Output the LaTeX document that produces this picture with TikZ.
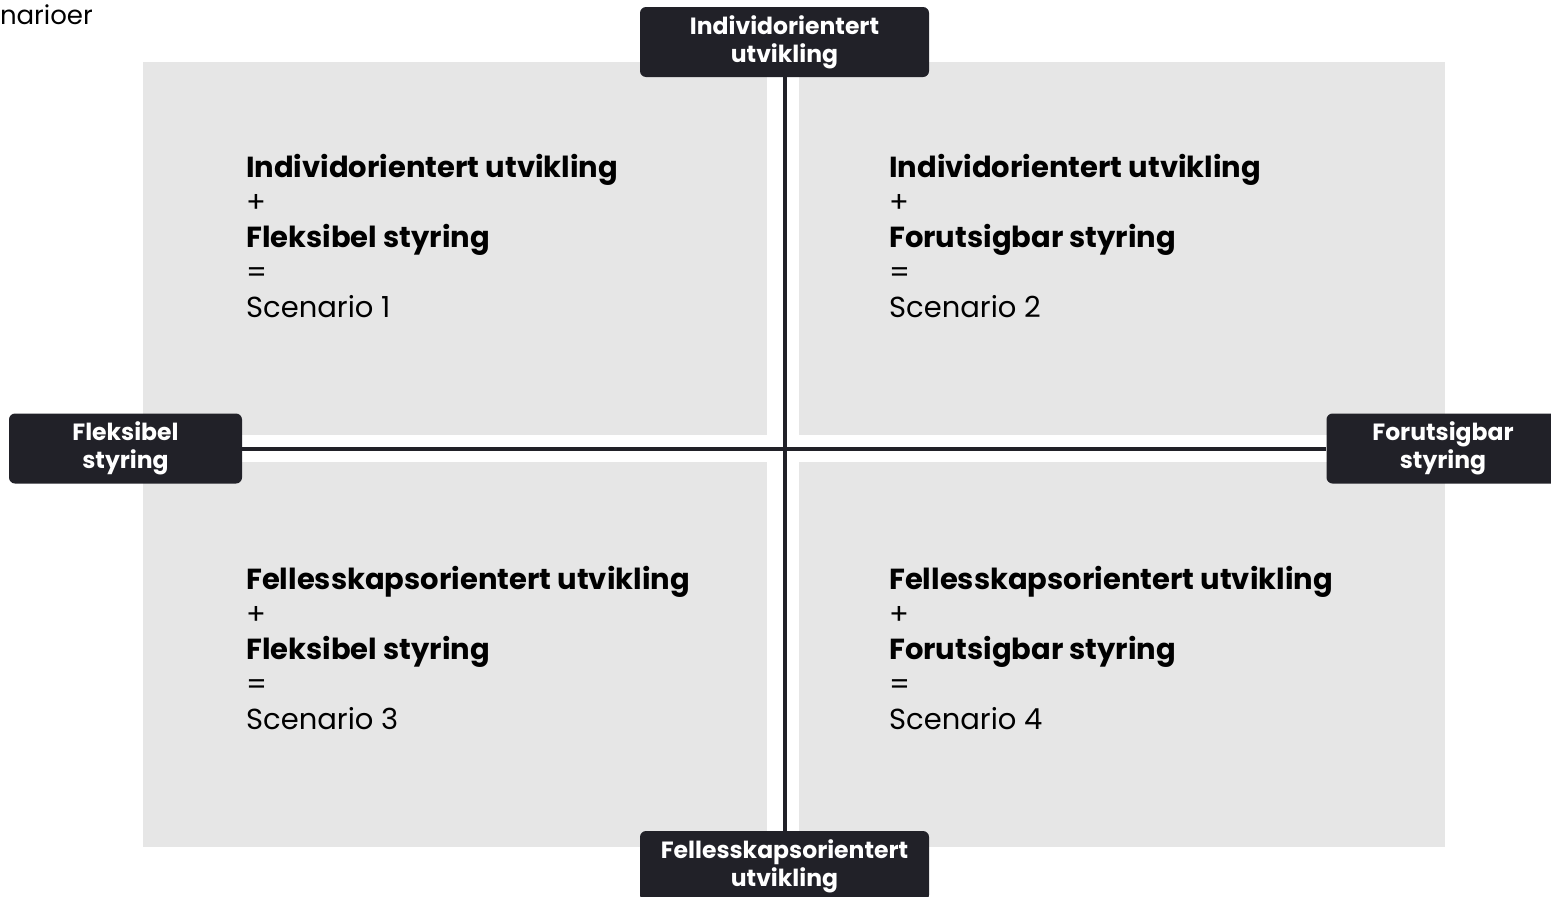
\documentclass[tikz,border=0pt]{standalone}
\usepackage{fontspec}
\setmainfont{Poppins}
\definecolor{boxdark}{RGB}{33,33,40}
\definecolor{panelgrey}{RGB}{230,230,230}

\begin{document}
\begin{tikzpicture}[x=1pt,y=-1pt,line cap=round,line join=round,every node/.style={inner sep=0pt},
  panel/.style={fill=panelgrey},
  axislabel/.style={fill=boxdark,text=white,rounded corners=6pt,minimum width=233pt,minimum height=70pt,
    align=center,font=\bfseries\fontsize{23.5}{28}\selectfont},
  axisline/.style={draw=boxdark,line width=4pt,line cap=butt},
  quadtext/.style={anchor=base west,align=left,font=\fontsize{29}{35}\selectfont}]
  \useasboundingbox (0,0) rectangle (1551,897);
  \clip (0,0) rectangle (1551,897);
  \foreach \xa/\xb in {143/767,799/1445} {
    \foreach \ya/\yb in {62/435,462/847} {
      \fill[panel] (\xa,\ya) rectangle (\xb,\yb);
    }
  }
  \node[anchor=base east,font=\fontsize{26}{30}\selectfont] (title) at (93,24) {Scenarioer};
  \node[axislabel,minimum width=289pt] (top) at (784.5,42) {Individorientert\\utvikling};
  \node[axislabel,minimum width=289pt] (bottom) at (784.5,866) {Fellesskapsorientert\\utvikling};
  \node[axislabel] (left) at (125.5,448.5) {Fleksibel\\styring};
  \node[axislabel] (right) at (1443,448.5) {Forutsigbar\\styring};
  \draw[axisline] (top) -- (bottom);
  \draw[axisline] (left) -- (right);
  % base anchor sits on the last line (Scenario n)
  \foreach \x/\y/\dev/\ctl/\n in {246/317/Individorientert/Fleksibel/1,889/317/Individorientert/Forutsigbar/2,
      246/729/Fellesskapsorientert/Fleksibel/3,889/729/Fellesskapsorientert/Forutsigbar/4} {
    \node[quadtext] (scen\n) at (\x,\y) {\textbf{\dev\ utvikling}\\+\\\textbf{\ctl\ styring}\\=\\Scenario \n};
  }
\end{tikzpicture}
\end{document}
